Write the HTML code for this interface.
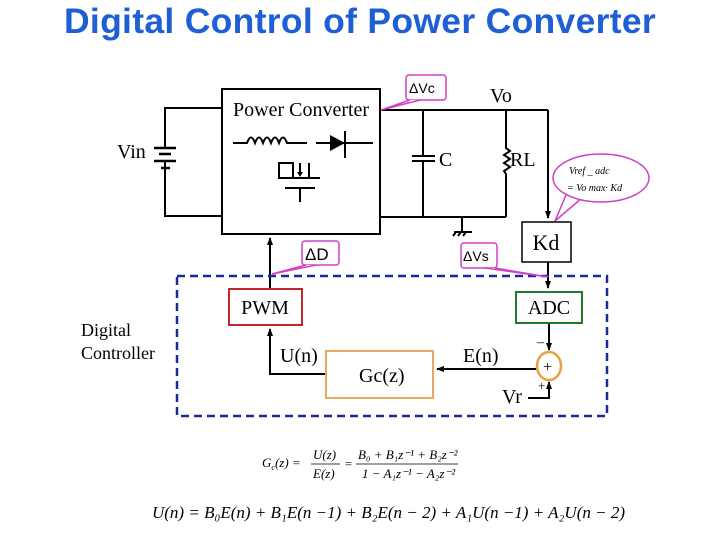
<!DOCTYPE html>
<html><head><style>
body{margin:0;background:#fff;width:720px;height:540px;overflow:hidden;position:relative;font-family:"Liberation Serif",serif}
.t{position:absolute;white-space:nowrap}
</style></head><body>
<div class="t" style="left:0;width:720px;text-align:center;top:1px;font:bold 35.5px 'Liberation Sans',sans-serif;color:#1f5fd6;letter-spacing:0.3px">Digital Control of Power Converter</div>
<svg width="720" height="540" style="position:absolute;left:0;top:0" font-family="Liberation Serif, serif">
<defs><marker id="a" markerWidth="8" markerHeight="8" refX="7" refY="4" orient="auto" markerUnits="userSpaceOnUse"><path d="M0,1 L8,4 L0,7z" fill="#000"/></marker></defs>
<g stroke="#000" stroke-width="2" fill="none">
<rect x="222" y="89" width="158" height="145"/>
<path d="M222,108 H165 V148 M165,162 V216 H222"/>
<path d="M154,148 H176 M159,154 H171 M154,161 H176 M161,168 H170" stroke-width="2.5"/>
<path d="M380,110 H548 M380,217 H506"/>
<path d="M423,110 V156 M412,156 H435 M412,161 H435 M423,161 V217"/>
<path d="M506,110 V148 l4,3 -6,4 6,4 -6,4 6,4 -6,4 2,3 V217"/>
<path d="M462,217 V232 M454,232 H472 M456,232 l-3,4 M461,232 l-3,4 M466,232 l-3,4"/>
<path d="M548,110 V218" marker-end="url(#a)"/>
<rect x="522" y="222" width="49" height="40" stroke-width="1.5"/>
<path d="M548,262 V288" marker-end="url(#a)"/>
<path d="M270,289 V238" marker-end="url(#a)"/>
<path d="M233,143 H247 q4,-11 8,0 q4,-11 8,0 q4,-11 8,0 q4,-11 8,0 q4,-11 8,0 H307"/>
<path d="M316,143 H373 M345,131 V158"/>
<path d="M278,178 H320 M279,178 V163 H293 V178 M309,163 V178 M300,163 V173 M285,188 H315 M300,188 V202"/>
<path d="M326,374 H270 V329" marker-end="url(#a)"/>
<path d="M537,369 H437" marker-end="url(#a)"/>
<path d="M549,323 V350" marker-end="url(#a)"/>
<path d="M528,398 H549 V382" marker-end="url(#a)"/>
</g>
<path d="M345,143 L330,135 V151z" fill="#000"/>
<path d="M297,172 l3,5 3,-5z" fill="#000"/>
<rect x="177" y="276" width="430" height="140" fill="none" stroke="#1a2a9a" stroke-width="2.5" stroke-dasharray="8,5"/>
<rect x="229" y="289" width="73" height="36" fill="none" stroke="#c0282a" stroke-width="2"/>
<rect x="516" y="292" width="66" height="31" fill="none" stroke="#1f7a2a" stroke-width="2"/>
<rect x="326" y="351" width="107" height="47" fill="none" stroke="#e8a860" stroke-width="2"/>
<ellipse cx="549" cy="366" rx="12" ry="14" fill="#fff" stroke="#e8a040" stroke-width="2.5"/>
<g fill="#fff" stroke="#d040c0" stroke-width="1.5">
<rect x="406" y="75" width="40" height="25" rx="3"/>
<path d="M410,100 L381,110 L420,100"/>
<rect x="302" y="241" width="37" height="24" rx="3"/>
<path d="M306,265 L272,274 L316,265"/>
<rect x="461" y="243" width="36" height="25" rx="3"/>
<path d="M485,268 L548,277 L495,268"/>
<path d="M566,195 L555,221 L582,198"/>
<ellipse cx="601" cy="178" rx="48" ry="24"/>
</g>
<g font-size="20">
<text x="233" y="116">Power Converter</text>
<text x="117" y="158">Vin</text>
<text x="439" y="166">C</text>
<text x="510" y="166">RL</text>
<text x="490" y="102">Vo</text>
<text x="546" y="250" font-size="22" text-anchor="middle">Kd</text>
<text x="265" y="314" text-anchor="middle">PWM</text>
<text x="549" y="314" text-anchor="middle">ADC</text>
<text x="81" y="336" font-size="18">Digital</text>
<text x="81" y="359" font-size="18">Controller</text>
<text x="280" y="362">U(n)</text>
<text x="359" y="382">Gc(z)</text>
<text x="463" y="362">E(n)</text>
<text x="502" y="403">Vr</text>
<text x="543" y="372" font-size="16">+</text>
<text x="537" y="346" font-size="14">–</text>
<text x="538" y="390" font-size="13">+</text>
</g>
<g font-family="Liberation Sans, sans-serif" font-size="14">
<text x="409" y="93">ΔVc</text>
<text x="305" y="260" font-size="17">ΔD</text>
<text x="463" y="261">ΔVs</text>
</g>
<g font-size="10" font-style="italic">
<text x="569" y="174">Vref _ adc</text>
<text x="567" y="191">= Vo max· Kd</text>
</g>
<g font-size="13" font-style="italic">
<text x="262" y="467">G<tspan font-size="8" dy="3">c</tspan><tspan dy="-3">(z) =</tspan></text>
<text x="313" y="459">U(z)</text><text x="313" y="478">E(z)</text>
<path d="M311,464 H340 M356,464 H458" stroke="#000" stroke-width="0.8"/>
<text x="344" y="468">=</text>
<text x="358" y="459">B₀ + B₁z⁻¹ + B₂z⁻²</text>
<text x="362" y="478">1 − A₁z⁻¹ − A₂z⁻²</text>
</g>
<text x="152" y="518" font-size="17" font-style="italic" textLength="473" lengthAdjust="spacingAndGlyphs">U(n) = B₀E(n) + B₁E(n −1) + B₂E(n − 2) + A₁U(n −1) + A₂U(n − 2)</text>
</svg>
</body></html>
